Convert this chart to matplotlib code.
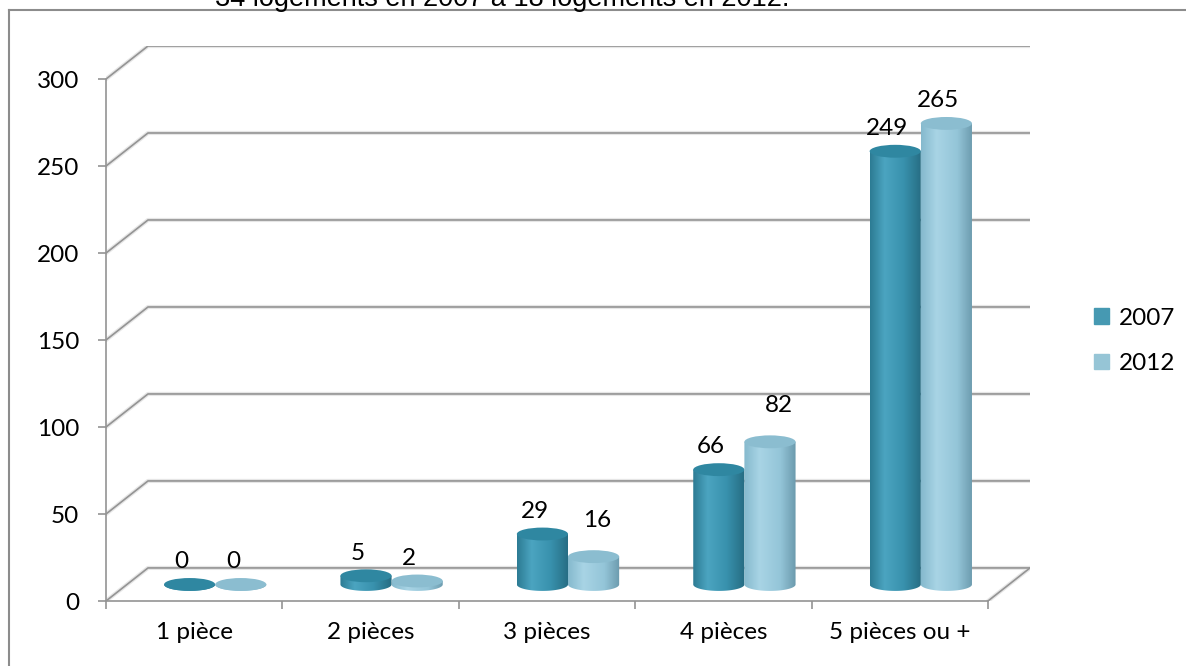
import matplotlib
matplotlib.use("Agg")
import matplotlib.pyplot as plt
import numpy as np
from matplotlib.colors import LinearSegmentedColormap
from matplotlib.lines import Line2D
from matplotlib.patches import Ellipse, Patch, PathPatch
from matplotlib.path import Path

categories = ["1 pièce", "2 pièces", "3 pièces", "4 pièces", "5 pièces ou +"]
years = ["2007", "2012"]
values_2007 = [0, 5, 29, 66, 249]
values_2012 = [0, 2, 16, 82, 265]
y_ticks = [0, 50, 100, 150, 200, 250, 300]
header = "34 logements en 2007 à 18 logements en 2012."

FONT = "Lato"
FS = 17.5
GRID = "#949494"

# depth of the fake 3d box, in data units
DX = 0.238
DY = 19.0
BAR_W = 0.29
CAP_H = 3.7  # half height of the elliptic caps

series_cmaps = [
    LinearSegmentedColormap.from_list(
        "teal", [(0, "#2c7b93"), (0.28, "#4ba4c0"), (0.65, "#3891ad"), (1, "#266c82")]),
    LinearSegmentedColormap.from_list(
        "sky", [(0, "#85b9cd"), (0.3, "#a8d4e5"), (0.7, "#94c5d8"), (1, "#6b9aad")]),
]
cap_colors = ["#2f87a1", "#8bbdd0"]
legend_colors = ["#4699b2", "#96c5d6"]

# manual nudges for a couple of value labels (series, category) -> (dx, dy)
label_nudge = {(1, 2): (0.065, 8.0), (1, 3): (0.095, 8.0)}


def grid_line(ax, xs, ys):
    ax.plot(xs, ys, color="#e6e6e6", lw=3.0, solid_capstyle="round", zorder=1)
    ax.plot(xs, ys, color=GRID, lw=1.2, zorder=2)


def cylinder(ax, cx, base, height, cmap, cap_color, z):
    a = BAR_W / 2
    top = base + height
    t = np.linspace(np.pi, 2 * np.pi, 60)
    xs = np.concatenate([cx + a * np.cos(t), [cx + a, cx - a]])
    ys = np.concatenate([base + CAP_H * np.sin(t), [top, top]])
    body = PathPatch(Path(np.column_stack([xs, ys]), closed=False),
                     facecolor="none", edgecolor="none")
    ax.add_patch(body)
    grad = np.linspace(0, 1, 256).reshape(1, -1)
    im = ax.imshow(grad, cmap=cmap, aspect="auto", interpolation="bilinear",
                   extent=[cx - a, cx + a, base - CAP_H, top], zorder=z)
    im.set_clip_path(body)
    ax.add_patch(Ellipse((cx, top), BAR_W, 2 * CAP_H, facecolor=cap_color,
                         edgecolor="none", zorder=z + 0.1))


def main():
    plt.rcParams["font.family"] = [FONT, "DejaVu Sans"]
    fig = plt.figure(figsize=(11.86, 6.66), dpi=100)
    ax = fig.add_axes([106 / 1186, 65 / 666, 924 / 1186, 555 / 666])

    n = len(categories)
    # back wall and left wall gridlines
    for v in y_ticks:
        grid_line(ax, [0, DX, n + DX], [v, v + DY, v + DY])
    # floor edges
    grid_line(ax, [n, n + DX], [0, DY])

    series = [values_2007, values_2012]
    for s, vals in enumerate(series):
        for i, v in enumerate(vals):
            cx = i + 0.5 + DX / 2 + (s - 0.5) * BAR_W
            cylinder(ax, cx, DY / 2, v, series_cmaps[s], cap_colors[s], 5 + s)
            ndx, ndy = label_nudge.get((s, i), (0.0, 0.0))
            ax.text(cx - 0.045 + ndx, DY / 2 + v + 7.0 + ndy, str(v),
                    ha="center", va="bottom", fontsize=FS, zorder=10)

    ax.set_xlim(0, n + DX)
    ax.set_ylim(0, 300 + DY)
    for side in ["top", "right"]:
        ax.spines[side].set_visible(False)
    for side in ["left", "bottom"]:
        ax.spines[side].set_color(GRID)
        ax.spines[side].set_linewidth(1.2)
    ax.spines["left"].set_bounds(0, 300)
    ax.spines["bottom"].set_bounds(0, n)

    ax.set_yticks(y_ticks)
    ax.set_yticklabels([str(v) for v in y_ticks], fontsize=FS)
    ax.tick_params(axis="y", length=5.8, width=1.2, color=GRID, pad=13.5)
    ax.set_xticks(range(n + 1))
    ax.set_xticklabels([])
    ax.set_xticks(np.arange(n) + 0.5, minor=True)
    ax.set_xticklabels(categories, minor=True, fontsize=FS)
    ax.tick_params(axis="x", which="major", length=5.8, width=1.2, color=GRID)
    ax.tick_params(axis="x", which="minor", length=0, pad=15)
    ax.set_facecolor("white")

    handles = [Patch(color=c) for c in legend_colors]
    fig.legend(handles, years, loc="center left", frameon=False,
               bbox_to_anchor=(1072 / 1186, 1 - 341 / 666), fontsize=FS,
               handlelength=0.62, handleheight=0.62, handletextpad=0.4,
               labelspacing=1.0)

    # outer frame: only the left and top edges fall inside the image
    fig.add_artist(Line2D([9 / 1186, 9 / 1186], [0, 1 - 10 / 666],
                          transform=fig.transFigure, color="#8c8c8c", lw=1.5))
    fig.add_artist(Line2D([9 / 1186, 1], [1 - 10 / 666, 1 - 10 / 666],
                          transform=fig.transFigure, color="#8c8c8c", lw=1.5))

    fig.text(215 / 1186, 1 - 5.5 / 666, header, family="Liberation Sans",
             fontsize=19.5, va="baseline", ha="left")

    fig.savefig("out.png", dpi=100)


if __name__ == "__main__":
    main()
